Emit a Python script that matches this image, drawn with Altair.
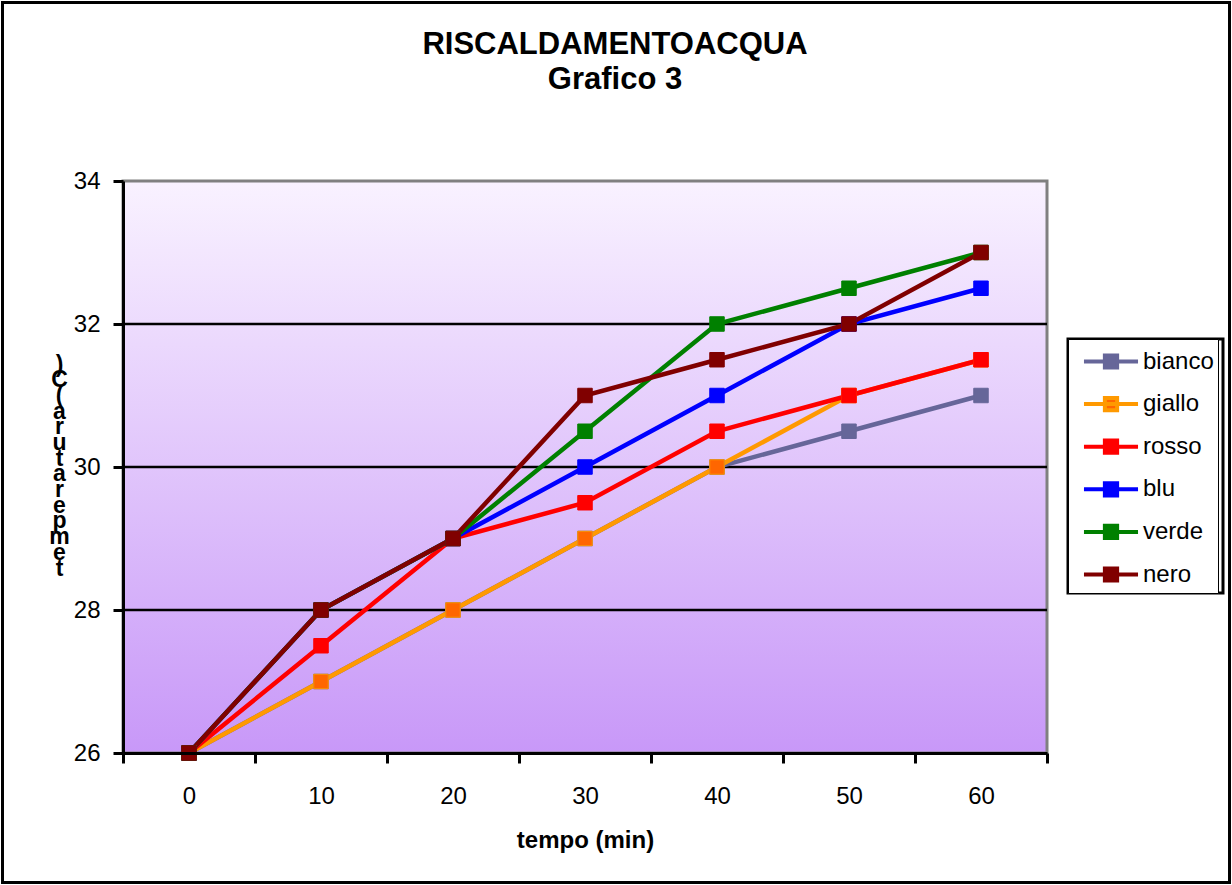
import altair as alt
import pandas as pd

# ---- data ----
tempo = [0, 10, 20, 30, 40, 50, 60]
series_names = ["bianco", "giallo", "rosso", "blu", "verde", "nero"]
bianco = [26, 27, 28, 29, 30, 30.5, 31]
giallo = [26, 27, 28, 29, 30, 31, 31.5]
rosso = [26, 27.5, 29, 29.5, 30.5, 31, 31.5]
blu = [26, 28, 29, 30, 31, 32, 32.5]
verde = [26, 28, 29, 30.5, 32, 32.5, 33]
nero = [26, 28, 29, 31, 31.5, 32, 33]

line_colors = ["#666699", "#FF9900", "#FF0000", "#0000FF", "#008000", "#800000"]
marker_colors = ["#666699", "#FF6600", "#FF0000", "#0000FF", "#008000", "#800000"]

x_tick_values = [-5, 5, 15, 25, 35, 45, 55, 65]
x_label_values = [0, 10, 20, 30, 40, 50, 60]
y_values = [26, 28, 30, 32, 34]
grid_values = [28, 30, 32]

title_lines = ["RISCALDAMENTOACQUA", "Grafico 3"]
x_title = "tempo (min)"
y_title_chars = list(reversed(list("temperatura (C)".replace(" ", ""))))

FONT = "Liberation Sans"
W, H = 924, 572

series_values = [bianco, giallo, rosso, blu, verde, nero]
rows = []
for name, vals in zip(series_names, series_values):
    for t, v in zip(tempo, vals):
        rows.append({"tempo": t, "temp": v, "serie": name})
df = pd.DataFrame(rows)

x_scale = alt.Scale(domain=[-5, 65], nice=False, zero=False)
y_scale = alt.Scale(domain=[26, 34], nice=False, zero=False)

all_x_values = sorted(x_tick_values + x_label_values)

x_axis = alt.Axis(
    values=all_x_values,
    labelExpr="datum.value % 10 == 0 ? datum.label : ''",
    tickOpacity=alt.condition("datum.value % 10 == 0", alt.value(0), alt.value(1)),
    grid=False, tickSize=10, tickWidth=3, tickColor="black",
    domainColor="black", domainWidth=3,
    labelFont=FONT, labelFontSize=24, labelColor="black", labelPadding=21,
    title=x_title, titleFont=FONT, titleFontSize=24, titleFontWeight="bold",
    titleColor="black", titleBaseline="middle", titleY=87,
    zindex=1,
)
y_axis = alt.Axis(
    values=y_values, grid=False, tickSize=10, tickWidth=3, tickColor="black",
    domainColor="black", domainWidth=3,
    labelFont=FONT, labelFontSize=24, labelColor="black", labelPadding=13,
    title=y_title_chars, titleFont=FONT, titleFontSize=23, titleFontWeight="bold",
    titleColor="black", titleAngle=0, titleAlign="center", titleBaseline="top",
    titleX=-64, titleY=172, titleLineHeight=15.7,
    zindex=1,
)

dummy = pd.DataFrame({"d": [0]})

background = alt.Chart(dummy).mark_rect(
    color=alt.Gradient(
        gradient="linear",
        stops=[alt.GradientStop(color="#F9F2FF", offset=0),
               alt.GradientStop(color="#C898F8", offset=1)],
        x1=0, x2=0, y1=0, y2=1,
    ),
    stroke="#808080", strokeWidth=3,
).encode(x=alt.value(0), x2=alt.value(W), y=alt.value(0), y2=alt.value(H))

outer = alt.Chart(dummy).mark_rect(
    fill=None, stroke="black", strokeWidth=3, clip=False
).encode(x=alt.value(-120.5), x2=alt.value(1106.5), y=alt.value(-178.5), y2=alt.value(701.5))

# frame drawn around the legend box
legend_frame = alt.Chart(dummy).mark_rect(
    fill=None, stroke="black", strokeWidth=3, clip=False
).encode(x=alt.value(945), x2=alt.value(1100), y=alt.value(158), y2=alt.value(412))

grid = alt.Chart(pd.DataFrame({"g": grid_values})).mark_rule(
    color="black", strokeWidth=2.5
).encode(
    y=alt.Y("g:Q", scale=y_scale, axis=y_axis),
    x=alt.value(0), x2=alt.value(W),
)

legend = alt.Legend(
    title=None, orient="none", legendX=945, legendY=158,
    padding=3.5, symbolOffset=20.5, labelOffset=13, rowPadding=8.6,
    labelFont=FONT, labelFontSize=24, labelColor="black", labelLimit=300,
    symbolType="M-1.59,0H1.59M-0.36,-0.36H0.36V0.36H-0.36Z",
    symbolSize=1156, symbolStrokeWidth=4,
    strokeColor="black", fillColor="white",
)

stroke_enc = alt.Stroke("serie:N", scale=alt.Scale(domain=series_names, range=line_colors), legend=legend)

lines = alt.Chart(df).mark_line(strokeWidth=4.5).encode(
    x=alt.X("tempo:Q", scale=x_scale, axis=x_axis),
    y=alt.Y("temp:Q", scale=y_scale, axis=y_axis),
    stroke=stroke_enc,
    order=alt.Order("tempo:Q"),
)

points = alt.Chart(df).mark_point(shape="square", filled=True, size=210, strokeWidth=1, opacity=1).encode(
    x=alt.X("tempo:Q", scale=x_scale, axis=x_axis),
    y=alt.Y("temp:Q", scale=y_scale, axis=y_axis),
    stroke=stroke_enc,
    fill=alt.Fill("serie:N", scale=alt.Scale(domain=series_names, range=marker_colors), legend=legend),
)

chart = alt.layer(background, outer, grid, lines, points, legend_frame).properties(
    width=W, height=H,
    title=alt.TitleParams(
        title_lines, font=FONT, fontSize=31, fontWeight="bold", color="black",
        anchor="middle", frame="group", dx=30, dy=95, offset=0, lineHeight=35,
    ),
    autosize=alt.AutoSizeParams(type="none"),
    padding={"left": 123, "top": 181, "right": 185, "bottom": 132},
).configure_view(stroke=None).configure_legend(strokeWidth=3, zindex=1).configure(background="white")

chart.save("out.html", embed_options={"renderer": "svg", "actions": False})
